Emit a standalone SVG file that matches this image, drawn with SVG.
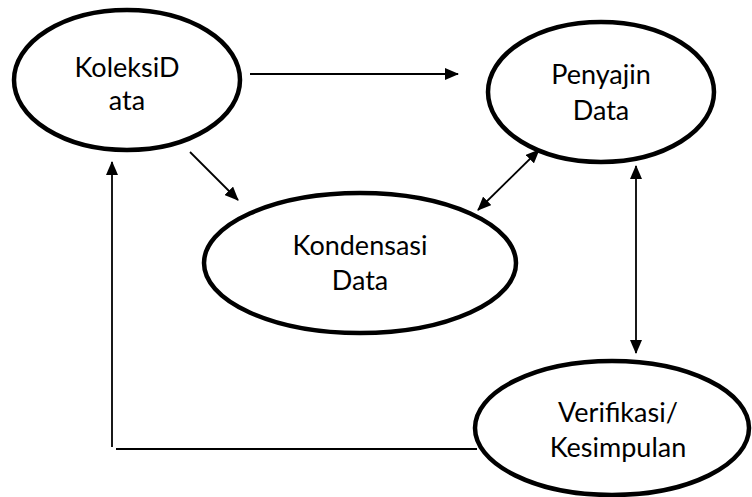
<svg xmlns="http://www.w3.org/2000/svg" width="752" height="497" viewBox="0 0 752 497">
<style>
.node ellipse{fill:#fff;stroke:#000;stroke-width:4.5}
.node text{font-family:Lato,"Open Sans",sans-serif;font-size:27px;fill:#000;text-anchor:middle}
.conn line{stroke:#000;stroke-width:1.8;fill:none}
</style>
<defs>
<marker id="ah" viewBox="0 0 14 12" refX="13" refY="6" markerWidth="14" markerHeight="12" markerUnits="userSpaceOnUse" orient="auto-start-reverse">
<path d="M0,0 L14,6 L0,12 Z" fill="#000"/>
</marker>
</defs>
<rect width="752" height="497" fill="#fff"/>
<g id="koleksi" class="node">
<ellipse cx="127" cy="80" rx="113" ry="70"/>
<text x="127" y="77">KoleksiD</text>
<text x="127" y="110">ata</text>
</g>
<g id="penyajin" class="node">
<ellipse cx="601" cy="92" rx="113" ry="70"/>
<text x="601" y="84">Penyajin</text>
<text x="601" y="120">Data</text>
</g>
<g id="kondensasi" class="node">
<ellipse cx="360" cy="263" rx="156" ry="70"/>
<text x="360" y="255">Kondensasi</text>
<text x="360" y="290">Data</text>
</g>
<g id="verifikasi" class="node">
<ellipse cx="612" cy="428" rx="137" ry="67"/>
<text x="618" y="422">Verifikasi/</text>
<text x="618" y="457">Kesimpulan</text>
</g>
<g id="connectors" class="conn">
<line x1="250" y1="74" x2="458" y2="74" marker-end="url(#ah)"/>
<line x1="190" y1="152" x2="238" y2="200" marker-end="url(#ah)"/>
<line x1="478" y1="210" x2="539" y2="150" marker-start="url(#ah)" marker-end="url(#ah)"/>
<line x1="636" y1="166" x2="636" y2="353" marker-start="url(#ah)" marker-end="url(#ah)"/>
<line x1="477" y1="449" x2="116" y2="449"/>
<line x1="112" y1="447" x2="112" y2="162" marker-end="url(#ah)"/>
</g>
</svg>
